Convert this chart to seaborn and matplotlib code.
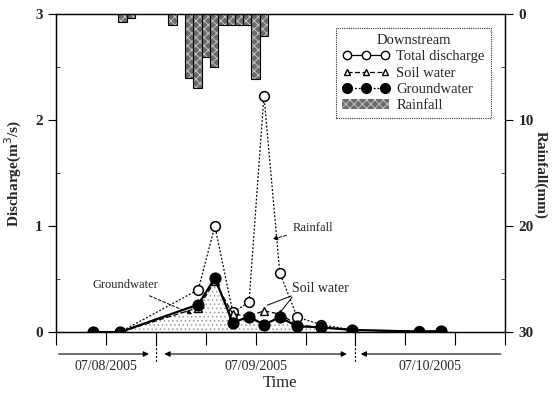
import numpy as np
import pandas as pd
import matplotlib
matplotlib.use("Agg")
import matplotlib.pyplot as plt
import seaborn as sns
from matplotlib.lines import Line2D
from matplotlib.patches import Patch

# ---- data (hours since 07/08/2005 00:00) ----
sample_hours = [16.5, 19.7, 29.1, 31.1, 33.25, 35.2, 37.0, 38.9, 41.0, 43.9, 47.6, 55.6, 58.3]
total_discharge = [0.0, 0.0, 0.40, 1.00, 0.19, 0.28, 2.23, 0.56, 0.14, 0.07, 0.02, 0.01, 0.01]
soil_water = [0.0, 0.0, 0.23, 0.48, 0.17, 0.15, 0.20, 0.17, 0.07, 0.04, 0.02, 0.005, 0.005]
groundwater = [0.0, 0.0, 0.26, 0.51, 0.09, 0.145, 0.07, 0.14, 0.055, 0.045, 0.02, 0.005, 0.01]

rain_hours = [20, 21, 26, 28, 29, 30, 31, 32, 33, 34, 35, 36, 37]
rain_mm = [0.75, 0.4, 1.0, 6.0, 7.0, 4.0, 5.0, 1.0, 1.0, 1.0, 1.0, 6.1, 2.1]

date_labels = ["07/08/2005", "07/09/2005", "07/10/2005"]
x_ticks = [12, 18, 24, 30, 36, 42, 48, 54, 60, 66]

sns.set_theme(style="white")
plt.rcParams['font.family'] = ['Liberation Serif', 'DejaVu Serif']
plt.rcParams['hatch.linewidth'] = 0.6

fig = plt.figure(figsize=(5.54, 3.93), dpi=100)
ax = fig.add_axes([0.101, 0.155, 0.811, 0.809])
ax2 = ax.twinx()

df = pd.DataFrame({"t": sample_hours, "total": total_discharge,
                   "soil": soil_water, "gw": groundwater})

# shaded groundwater area
ax.fill_between(sample_hours[1:11], groundwater[1:11], 0, facecolor="white",
                hatch="....", edgecolor="#9a9a9a", linewidth=0, zorder=1)

sns.lineplot(data=df, x="t", y="total", ax=ax, color="black", lw=0.9,
             linestyle=(0, (1.5, 1.5)), marker="o", markersize=7,
             markerfacecolor="white", markeredgecolor="black", markeredgewidth=1.1, zorder=3)
sns.lineplot(data=df, x="t", y="soil", ax=ax, color="black", lw=0.9,
             linestyle=(0, (4, 2)), marker="^", markersize=6,
             markerfacecolor="white", markeredgecolor="black", markeredgewidth=1.0, zorder=3)
sns.lineplot(data=df, x="t", y="gw", ax=ax, color="black", lw=1.6,
             linestyle="-", marker="o", markersize=8,
             markerfacecolor="black", markeredgecolor="black", zorder=4)

# rainfall bars on inverted right axis
ax2.bar(rain_hours, rain_mm, width=1.0, color="#6a6a6a", edgecolor="#d0d0d0",
        hatch="xxxx", linewidth=0, zorder=2)
ax2.bar(rain_hours, rain_mm, width=1.0, fill=False, edgecolor="black",
        linewidth=0.8, zorder=3)
ax2.set_ylim(30, 0)
ax.set_ylim(0, 3)
ax.set_xlim(12, 66)

ax.set_xticks(x_ticks)
ax.set_xticklabels([])
ax.set_yticks([0, 1, 2, 3])
ax.set_yticks([0.5, 1.5, 2.5], minor=True)
ax2.set_yticks([0, 10, 20, 30])
ax2.set_yticks([5, 15, 25], minor=True)

for a in (ax, ax2):
    for s in a.spines.values():
        s.set_color("black")
        s.set_linewidth(0.9)
ax.tick_params(axis="x", which="major", direction="out", length=9, width=0.8,
               color="black", bottom=True)
ax.tick_params(axis="y", which="major", direction="out", length=6, width=0.8,
               color="black", labelsize=11, left=True)
ax.tick_params(axis="y", which="minor", direction="in", length=3, width=0.6, left=True)
ax2.tick_params(axis="y", which="major", direction="out", length=6, width=0.8,
                color="black", labelsize=11, right=True)
ax2.tick_params(axis="y", which="minor", direction="in", length=3, width=0.6, right=True)
for lab in ax.get_yticklabels() + ax2.get_yticklabels():
    lab.set_fontweight("bold")

ax.set_xlabel("")
ax.set_ylabel("Discharge(m$^3$/s)", fontsize=11, fontweight="bold", labelpad=8)
ax2.set_ylabel("")
fig.text(280 / 554, 1 - 383 / 393, "Time", ha="center", va="center", fontsize=12)
fig.text(541 / 554, 1 - 175 / 393, "Rainfall(mm)", ha="center", va="center",
         fontsize=11, fontweight="bold", rotation=270)

# date arrows below the axis
tr = ax.get_xaxis_transform()
arrow_kw = dict(arrowstyle="-|>", color="black", lw=0.8, mutation_scale=8)
ax.annotate("", xy=(23.5, -0.069), xytext=(12, -0.069), xycoords=tr,
            textcoords=tr, arrowprops=arrow_kw, annotation_clip=False)
ax.annotate("", xy=(24.7, -0.069), xytext=(47.3, -0.069), xycoords=tr,
            textcoords=tr, arrowprops=dict(arrowstyle="<|-|>", color="black", lw=0.8,
                                           mutation_scale=8), annotation_clip=False)
ax.annotate("", xy=(48.3, -0.069), xytext=(65.8, -0.069), xycoords=tr,
            textcoords=tr, arrowprops=arrow_kw, annotation_clip=False)
for xb in (24, 48):
    ax.plot([xb, xb], [0, -0.095], transform=tr, color="black", lw=0.8,
            linestyle=(0, (2, 1.5)), clip_on=False)
for xc, lab in zip([18, 36, 57], date_labels):
    ax.text(xc, -0.107, lab, transform=tr, ha="center", va="center", fontsize=10)

# in-plot annotations
ann_kw = dict(arrowstyle="-|>", color="black", lw=0.7, linestyle=(0, (3, 2)),
              mutation_scale=7)
ax.annotate("Groundwater", xy=(28.7, 0.16), xytext=(20.3, 0.44),
            ha="center", va="center", fontsize=9, arrowprops=ann_kw, zorder=6)
ax.annotate("Rainfall", xy=(37.7, 0.87), xytext=(40.4, 0.98),
            ha="left", va="center", fontsize=9, arrowprops=ann_kw, zorder=6)
ax.text(40.4, 0.415, "Soil water", ha="left", va="center", fontsize=10, zorder=6)
for tip in [(37.1, 0.245), (38.6, 0.15)]:
    ax.annotate("", xy=tip, xytext=(40.6, 0.35),
                arrowprops=dict(arrowstyle="-", color="black", lw=0.7), zorder=6)

# legend
handles = [
    Line2D([], [], color="black", lw=0.9, linestyle="-", marker="o", markersize=6,
           markerfacecolor="white"),
    Line2D([], [], color="black", lw=0.9, linestyle=(0, (4, 2)), marker="^", markersize=5,
           markerfacecolor="white"),
    Line2D([], [], color="black", lw=0.9, linestyle=(0, (1.5, 1.5)), marker="o", markersize=7,
           markerfacecolor="black"),
    Patch(facecolor="#6a6a6a", edgecolor="#d0d0d0", hatch="xxxx", linewidth=0),
]
leg = ax2.legend(handles, ["Total discharge", "Soil water", "Groundwater", "Rainfall"],
                 title="Downstream", loc="upper right", bbox_to_anchor=(0.985, 0.98),
                 fontsize=10.5, title_fontsize=10.5, numpoints=3, handlelength=3.2,
                 frameon=True, fancybox=False, borderpad=0.45, labelspacing=0.2,
                 handletextpad=0.5)
leg.get_frame().set_edgecolor("black")
leg.get_frame().set_linestyle((0, (1, 1)))
leg.get_frame().set_linewidth(0.8)
leg.set_zorder(10)

fig.savefig("out.png", dpi=100)
